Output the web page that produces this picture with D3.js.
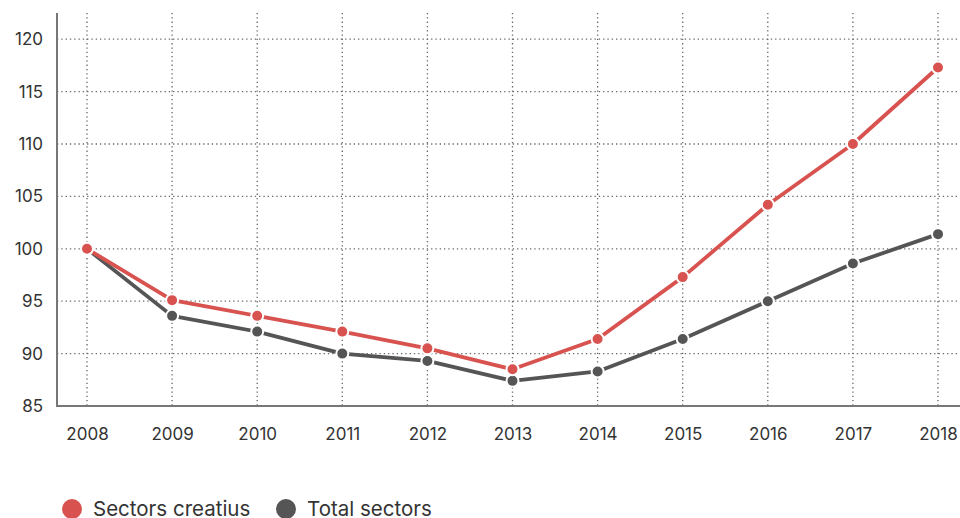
<!DOCTYPE html>
<html>
    <head>
        <meta charset="utf-8">
        <script type="text/javascript" src="https://d3js.org/d3.v7.min.js"></script>
<style>
    body { margin: 0; background: #fff; }
    svg text { font-family: Inter, Roboto, sans-serif; fill: #333; }
</style>
    </head>
    <body>
        <div id="chart"></div>
        <script>
            var years = [2008, 2009, 2010, 2011, 2012, 2013, 2014, 2015, 2016, 2017, 2018];
            var creatius = [100, 95.1, 93.6, 92.1, 90.5, 88.5, 91.4, 97.3, 104.2, 110, 117.3];
            var total = [100, 93.6, 92.1, 90.0, 89.3, 87.4, 88.3, 91.4, 95.0, 98.6, 101.4];
            var y_ticks = [85, 90, 95, 100, 105, 110, 115, 120];
            var series_names = ['Sectors creatius', 'Total sectors'];
            var colors = ['#d85350', '#555555'];

            var chart_width = 960;
            var chart_height = 518;
            var m_left = 57, m_top = 13, m_bottom = 406, m_right = 960;

            var svg = d3.select('#chart')
            .append('svg')
            .attr('width', chart_width)
            .attr('height', chart_height);

            // scales
            var x_scale = d3.scalePoint()
            .domain(years)
            .range([87, 938]);

            var y_scale = d3.scaleLinear()
            .domain([85, 122.5])
            .range([m_bottom, m_top]);

            // grid
            svg.append('g')
            .selectAll('line')
            .data(y_ticks.slice(1))
            .enter()
            .append('line')
            .attr('x1', m_left).attr('x2', m_right)
            .attr('y1', (d) => y_scale(d)).attr('y2', (d) => y_scale(d))
            .attr('stroke', '#666')
            .attr('stroke-width', 1.3)
            .attr('stroke-dasharray', '1.3,3');

            svg.append('g')
            .selectAll('line')
            .data(years)
            .enter()
            .append('line')
            .attr('x1', (d) => x_scale(d)).attr('x2', (d) => x_scale(d))
            .attr('y1', m_top).attr('y2', m_bottom)
            .attr('stroke', '#666')
            .attr('stroke-width', 1.3)
            .attr('stroke-dasharray', '1.3,3');

            // axes
            var y_axis = d3.axisLeft(y_scale).tickValues(y_ticks).tickSize(0).tickPadding(14);
            var gy = svg.append('g').attr('transform', 'translate(' + m_left + ',0)').call(y_axis);
            gy.select('.domain').remove();
            gy.selectAll('text').attr('font-size', 17).style('font-family', 'Inter, Roboto, sans-serif');

            var x_axis = d3.axisBottom(x_scale).tickFormat(d3.format('d')).tickSize(0).tickPadding(22);
            var gx = svg.append('g').attr('transform', 'translate(0,' + m_bottom + ')').call(x_axis);
            gx.select('.domain').remove();
            gx.selectAll('text').attr('font-size', 17).style('font-family', 'Inter, Roboto, sans-serif');

            svg.append('line')
            .attr('x1', m_left).attr('x2', m_left).attr('y1', m_top).attr('y2', m_bottom + 1)
            .attr('stroke', '#777').attr('stroke-width', 2);
            svg.append('line')
            .attr('x1', m_left).attr('x2', m_right).attr('y1', m_bottom).attr('y2', m_bottom)
            .attr('stroke', '#777').attr('stroke-width', 2);

            // lines + markers (gray first, red on top)
            var line = d3.line()
            .x((d, i) => x_scale(years[i]))
            .y((d) => y_scale(d));

            [total, creatius].forEach((vals, k) => {
                var col = k == 0 ? colors[1] : colors[0];
                svg.append('path')
                .datum(vals)
                .attr('d', line)
                .attr('fill', 'none')
                .attr('stroke', col)
                .attr('stroke-width', 3.8)
                .attr('stroke-linejoin', 'round');

                svg.append('g')
                .selectAll('circle')
                .data(vals)
                .enter()
                .append('circle')
                .attr('cx', (d, i) => x_scale(years[i]))
                .attr('cy', (d) => y_scale(d))
                .attr('r', 6)
                .attr('fill', col)
                .attr('stroke', '#fff')
                .attr('stroke-width', 2);
            });

            // legend
            var legend_x = [72, 286];
            series_names.forEach((name, i) => {
                svg.append('circle')
                .attr('cx', legend_x[i]).attr('cy', 509).attr('r', 10)
                .attr('fill', colors[i]);
                svg.append('text')
                .attr('x', legend_x[i] + 21).attr('y', 516)
                .attr('font-size', 20.5)
                .text(name);
            });
        </script>
    </body>
</html>
